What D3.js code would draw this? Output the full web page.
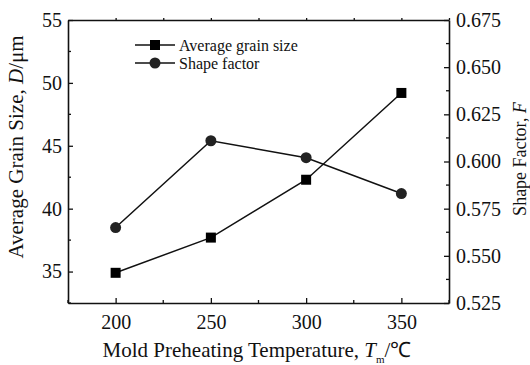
<!DOCTYPE html>
<html lang="en">
<head>
<meta charset="UTF-8">
<title>Grain size and shape factor</title>
<style>
body { margin: 0; background: #fff; }
svg text { font-family: "Liberation Serif", "Times New Roman", serif; fill: #111; }
</style>
</head>
<body>
<svg id="chart" width="530" height="365"></svg>
<script src="https://d3js.org/d3.v7.min.js"></script>
<script>
// data
const temps = [200, 250, 300, 350];
const grainSize = [34.9, 37.7, 42.3, 49.2];
const shapeFactor = [0.565, 0.611, 0.602, 0.583];
const xTicks = [200, 250, 300, 350];
const leftTicks = [35, 40, 45, 50, 55];
const rightTicks = [0.525, 0.55, 0.575, 0.6, 0.625, 0.65, 0.675];

const svg = d3.select("#chart");
const m = { left: 68, right: 449, top: 20, bottom: 303 };

const x = d3.scaleLinear().domain([175, 375]).range([m.left, m.right]);
const yL = d3.scaleLinear().domain([32.5, 55]).range([m.bottom, m.top]);
const yR = d3.scaleLinear().domain([0.525, 0.675]).range([m.bottom, m.top]);

const ink = "#111";

// minor ticks
const xMinor = d3.range(175, 376, 25).filter(v => !xTicks.includes(v));
const lMinor = d3.range(32.5, 55.1, 2.5).filter(v => !leftTicks.includes(v));
const rMinor = d3.range(0.5375, 0.675, 0.025);

// bottom axis
const gx = svg.append("g").attr("transform", `translate(0,${m.bottom})`)
    .call(d3.axisBottom(x).tickValues(xTicks).tickSize(-5).tickPadding(12).tickSizeOuter(0));
gx.append("g").selectAll("line").data(xMinor).join("line")
    .attr("x1", d => x(d)).attr("x2", d => x(d)).attr("y1", 0).attr("y2", -3);

// top axis with small outward ticks
const gt = svg.append("g").attr("transform", `translate(0,${m.top})`)
    .call(d3.axisTop(x).tickValues(d3.range(200, 376, 25)).tickSize(2).tickFormat("").tickSizeOuter(0));

// left axis
const gl = svg.append("g").attr("transform", `translate(${m.left},0)`)
    .call(d3.axisLeft(yL).tickValues(leftTicks).tickSize(-5).tickPadding(6).tickSizeOuter(0));
gl.append("g").selectAll("line").data(lMinor).join("line")
    .attr("y1", d => yL(d)).attr("y2", d => yL(d)).attr("x1", 0).attr("x2", 3);

// right axis
const gr = svg.append("g").attr("transform", `translate(${m.right},0)`)
    .call(d3.axisRight(yR).tickValues(rightTicks).tickSize(-5).tickPadding(7)
        .tickFormat(d3.format(".3f")).tickSizeOuter(0));
gr.append("g").selectAll("line").data(rMinor).join("line")
    .attr("y1", d => yR(d)).attr("y2", d => yR(d)).attr("x1", 0).attr("x2", -3);

[gx, gt, gl, gr].forEach(g => {
    g.attr("font-family", null).attr("font-size", null);
    g.select(".domain").attr("stroke", ink).attr("stroke-width", 1.6);
    g.selectAll("line").attr("stroke", ink).attr("stroke-width", 1.3);
    g.selectAll("text").attr("font-size", 20).attr("fill", ink);
});

// lines
const lineG = d3.line().x((d, i) => x(temps[i])).y(d => yL(d));
const lineS = d3.line().x((d, i) => x(temps[i])).y(d => yR(d));

svg.append("path").datum(grainSize).attr("d", lineG)
    .attr("fill", "none").attr("stroke", ink).attr("stroke-width", 1.5);
svg.append("path").datum(shapeFactor).attr("d", lineS)
    .attr("fill", "none").attr("stroke", ink).attr("stroke-width", 1.5);

svg.append("g").selectAll("rect").data(grainSize).join("rect")
    .attr("x", (d, i) => x(temps[i]) - 5).attr("y", d => yL(d) - 5)
    .attr("width", 10).attr("height", 10).attr("fill", "#000");
svg.append("g").selectAll("circle").data(shapeFactor).join("circle")
    .attr("cx", (d, i) => x(temps[i])).attr("cy", d => yR(d))
    .attr("r", 5.5).attr("fill", "#222");

// legend
const legend = [
    { label: "Average grain size", shape: "square", y: 45 },
    { label: "Shape factor", shape: "circle", y: 63 }
];
const lg = svg.append("g");
legend.forEach(d => {
    lg.append("line").attr("x1", 135).attr("x2", 175).attr("y1", d.y).attr("y2", d.y)
        .attr("stroke", ink).attr("stroke-width", 1.5);
    if (d.shape === "square") {
        lg.append("rect").attr("x", 150).attr("y", d.y - 5).attr("width", 10).attr("height", 10).attr("fill", "#000");
    } else {
        lg.append("circle").attr("cx", 155).attr("cy", d.y).attr("r", 5.5).attr("fill", "#222");
    }
    lg.append("text").attr("x", 179).attr("y", d.y).attr("dy", "0.35em")
        .attr("font-size", 16).text(d.label);
});

// axis titles
const xt = svg.append("text").attr("x", 257).attr("y", 357)
    .attr("text-anchor", "middle").attr("font-size", 21);
xt.append("tspan").text("Mold Preheating Temperature, ");
xt.append("tspan").attr("font-style", "italic").text("T");
xt.append("tspan").attr("font-size", 11).attr("dy", 6).text("m");
xt.append("tspan").attr("dy", -6).text("/\u2103");

const yt = svg.append("text").attr("transform", "translate(23,147) rotate(-90)")
    .attr("text-anchor", "middle").attr("font-size", 21);
yt.append("tspan").text("Average Grain Size, ");
yt.append("tspan").attr("font-style", "italic").text("D");
yt.append("tspan").text("/\u03bcm");

const rt = svg.append("text").attr("transform", "translate(526,159) rotate(-90)")
    .attr("text-anchor", "middle").attr("font-size", 18);
rt.append("tspan").text("Shape Factor, ");
rt.append("tspan").attr("font-style", "italic").text("F");
</script>
</body>
</html>
